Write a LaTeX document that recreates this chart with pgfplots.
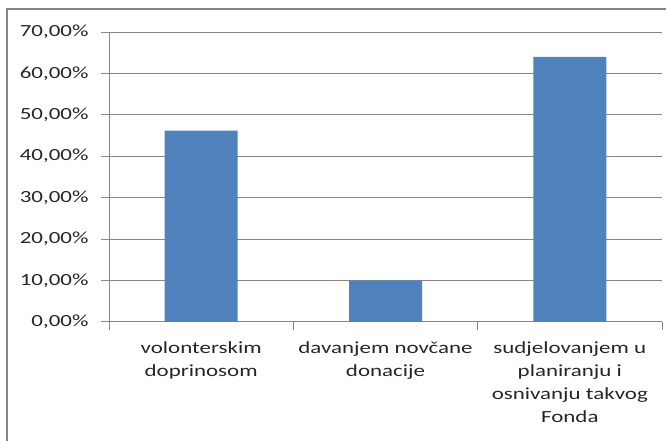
\documentclass[border=0pt]{standalone}
\usepackage{pgfplots}
\pgfplotsset{compat=1.18}
\usepackage{fontspec}
\setmainfont{Carlito}[FakeStretch=1.35]
\definecolor{barblue}{HTML}{4F81BD}
\definecolor{gridgray}{HTML}{868686}
\begin{document}
\begin{tikzpicture}[x=1pt,y=1pt]
\useasboundingbox (0,0) rectangle (666,441);
% outer chart frame (only top and left visible)
\draw[gridgray,line width=2pt] (7,0) -- (7,432) -- (666,432);
\begin{axis}[
at={(109pt,119pt)},anchor=south west,
scale only axis,width=553pt,height=290pt,
xmin=-0.5,xmax=2.5,ymin=0,ymax=70,
ybar,bar width=73pt,
axis x line*=bottom,axis y line*=left,
axis line style={gridgray,line width=1pt},
tick style={gridgray,line width=1pt},
tick align=outside,
major tick length=8pt,minor tick length=8pt,
xtick={0,1,2},
major x tick style={draw=none},
minor xtick={-0.5,0.5,1.5,2.5},
xticklabels={{volonterskim\\doprinosom},{davanjem novčane\\donacije},{sudjelovanjem u\\planiranju i\\osnivanju takvog\\Fonda}},
ytick={0,10,...,70},
ymajorgrids,
grid style={gridgray,line width=1pt},
yticklabel={\pgfmathprintnumber[fixed,fixed zerofill,precision=2,use comma,assume math mode=true]{\tick}\%},
tick label style={font=\fontsize{17}{23}\selectfont,text=black!85},
xticklabel style={align=center,yshift=-8pt},
yticklabel style={xshift=-9pt},
]
\addplot[fill=barblue,draw=none] coordinates {(0,46.2) (1,10) (2,64)};
\end{axis}
\end{tikzpicture}
\end{document}
